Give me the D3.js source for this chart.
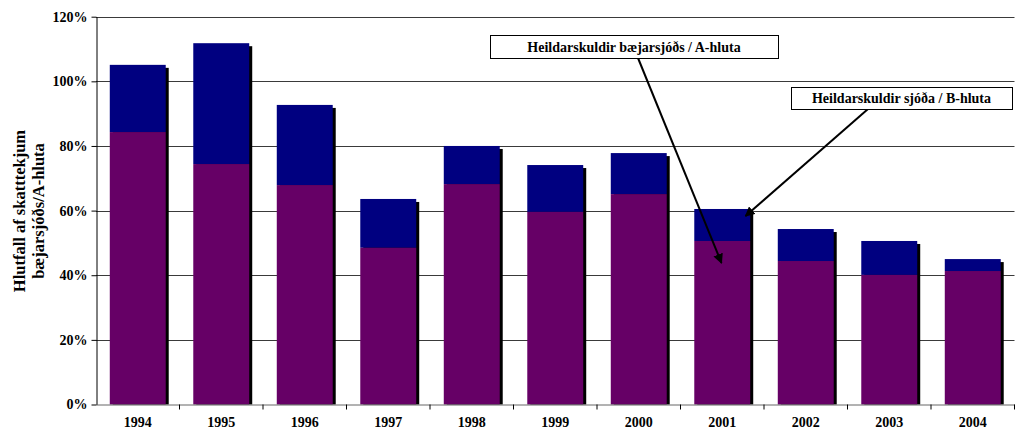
<!DOCTYPE html>
<html><head><meta charset="utf-8">
<script src="https://cdn.jsdelivr.net/npm/d3@7"></script>
<style>body{margin:0;background:#fff}svg{display:block}text{font-family:"Liberation Serif","Times New Roman",serif;font-weight:bold}.tk{font-size:14px}</style>
</head><body><svg id="c" width="1017" height="433"></svg>
<script>
const years = ["1994","1995","1996","1997","1998","1999","2000","2001","2002","2003","2004"];
const aHluta = [84.3, 74.4, 67.9, 48.5, 68.2, 59.6, 65.1, 50.6, 44.4, 40.1, 41.3];
const total = [105.1, 111.8, 92.7, 63.6, 80.0, 74.1, 77.8, 60.5, 54.3, 50.6, 45.0];
const yTicks = [0, 20, 40, 60, 80, 100, 120];
const labelA = "Heildarskuldir bæjarsjóðs / A-hluta";
const labelB = "Heildarskuldir sjóða / B-hluta";
const yTitle = ["Hlutfall af skatttekjum", "bæjarsjóðs/A-hluta"];

const svg = d3.select("#c");
const L = 96, R = 1014.5, T = 16.7, B = 404.5;
const x = d3.scaleBand().domain(years).range([L, R]).padding(0);
const y = d3.scaleLinear().domain([0, 120]).range([B, T]);
const bw = x.bandwidth() * 0.67;
const bx = d => x(d) + (x.bandwidth() - bw) / 2;

// gridlines
svg.append("g").selectAll("line").data(yTicks.filter(t => t > 0)).join("line")
  .attr("x1", L).attr("x2", R).attr("y1", d => Math.round(y(d)) + 0.5).attr("y2", d => Math.round(y(d)) + 0.5)
  .attr("stroke", "#3a3a3a").attr("stroke-width", 1);

const data = years.map((yr, i) => ({yr, a: aHluta[i], t: total[i]}));
const g = svg.append("g");
// shadows
g.selectAll("rect.sh").data(data).join("rect").attr("class", "sh")
  .attr("x", d => bx(d.yr) + 3).attr("y", d => y(d.t) + 3)
  .attr("width", bw).attr("height", d => B - y(d.t) - 3).attr("fill", "#000");
// B part (top)
g.selectAll("rect.b").data(data).join("rect").attr("class", "b")
  .attr("x", d => bx(d.yr)).attr("y", d => y(d.t))
  .attr("width", bw).attr("height", d => y(d.a) - y(d.t)).attr("fill", "#000080");
// A part
g.selectAll("rect.a").data(data).join("rect").attr("class", "a")
  .attr("x", d => bx(d.yr)).attr("y", d => y(d.a))
  .attr("width", bw).attr("height", d => B - y(d.a)).attr("fill", "#660066");

// y axis
const ya = svg.append("g").attr("transform", `translate(${L + 0.5},0)`)
  .call(d3.axisLeft(y).tickValues(yTicks).tickFormat(d => d + "%").tickSize(5).tickSizeOuter(0))
  .attr("font-size", null).attr("font-family", null);
ya.select(".domain").attr("stroke", "#000");
ya.selectAll(".tick line").attr("stroke", "#000");
ya.selectAll("text").attr("class", "tk").attr("fill", "#000").attr("x", -9);

// x axis
const xa = svg.append("g").attr("transform", `translate(0,${B})`)
  .call(d3.axisBottom(x).tickSize(0).tickSizeOuter(0))
  .attr("font-size", null).attr("font-family", null);
xa.select(".domain").attr("stroke", "#666");
xa.selectAll("text").attr("class", "tk").attr("fill", "#000").attr("dy", "1.4em");
svg.append("g").selectAll("line").data(years.slice(1).concat(["end"])).join("line")
  .attr("x1", d => d === "end" ? R : x(d)).attr("x2", d => d === "end" ? R : x(d))
  .attr("y1", B).attr("y2", B + 5).attr("stroke", "#000");

// y title
const yt = svg.append("text").attr("transform", `translate(25,211) rotate(-90)`)
  .attr("text-anchor", "middle").style("font-size", "16.5px");
yt.append("tspan").attr("x", 0).attr("dy", 0).text(yTitle[0]);
yt.append("tspan").attr("x", 0).attr("dy", 19).text(yTitle[1]);

// annotations
const defs = svg.append("defs");
defs.append("marker").attr("id", "ah").attr("viewBox", "0 0 10 10").attr("refX", 9).attr("refY", 5)
  .attr("markerWidth", 5).attr("markerHeight", 5).attr("orient", "auto")
  .append("path").attr("d", "M0,0 L10,5 L0,10 z").attr("fill", "#000");

function annot(label, bx0, by0, bw0, bh0, sx, sy, tx, ty) {
  svg.append("line").attr("x1", sx).attr("y1", sy).attr("x2", tx).attr("y2", ty)
    .attr("stroke", "#000").attr("stroke-width", 2).attr("marker-end", "url(#ah)");
  svg.append("rect").attr("x", bx0 + 0.5).attr("y", by0 + 0.5).attr("width", bw0).attr("height", bh0)
    .attr("fill", "#fff").attr("stroke", "#000").attr("stroke-width", 1);
  svg.append("text").attr("x", bx0 + bw0 / 2).attr("y", by0 + bh0 / 2 + 5).attr("text-anchor", "middle")
    .style("font-size", "14px").text(label);
}
annot(labelA, 490, 35, 288, 23, 638, 58, x("2001") + 41, y(43.8));
annot(labelB, 791, 87, 221, 22, 868, 109, x("2001") + 65, y(58.3));
</script></body></html>
